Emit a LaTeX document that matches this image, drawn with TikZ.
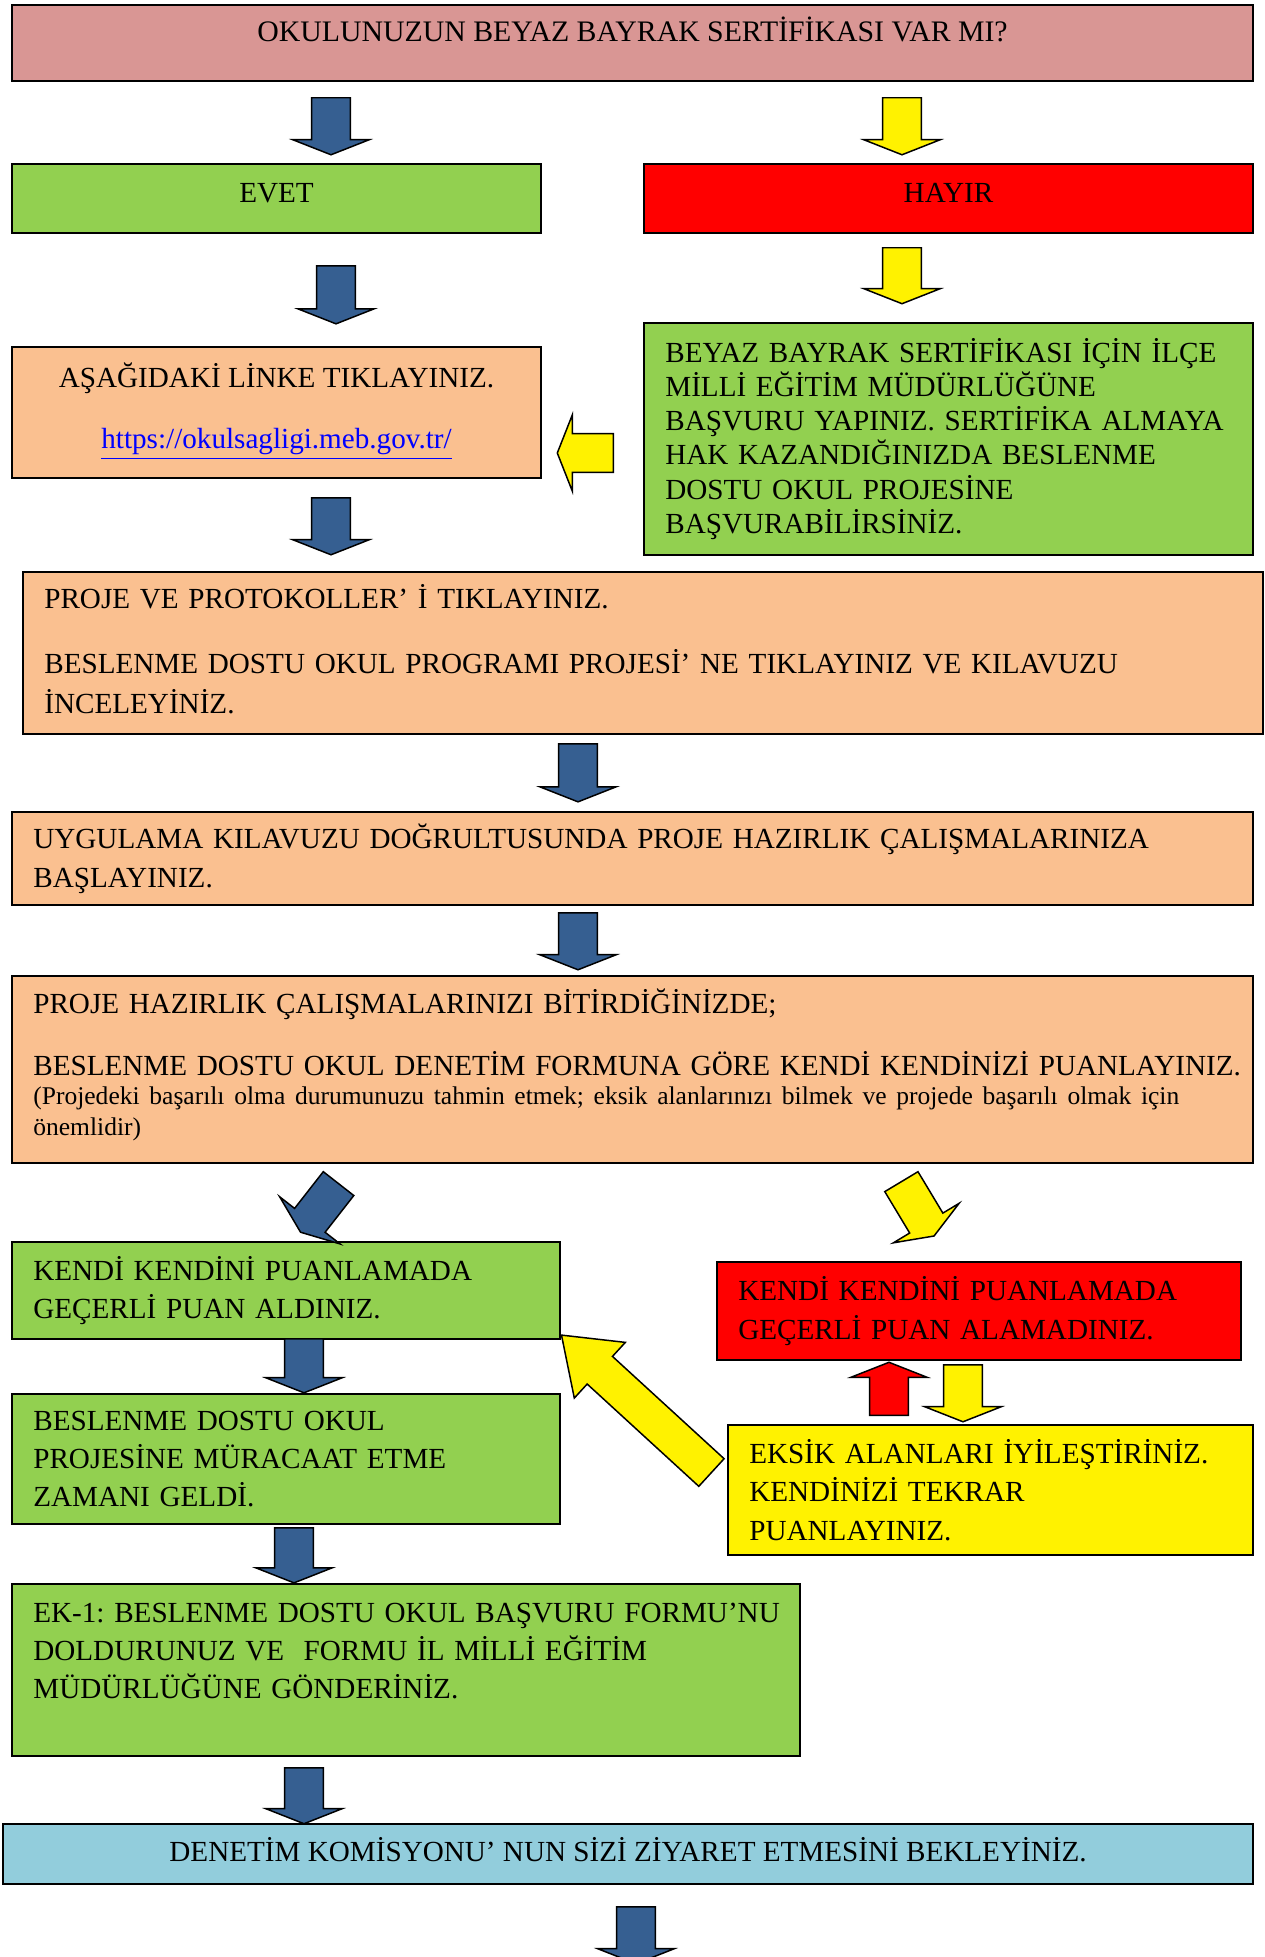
\documentclass[tikz,border=0pt]{standalone}
\usepackage{fontspec}
\setmainfont{Liberation Serif}
\usepackage{color}
\usetikzlibrary{shapes.arrows}
\definecolor{titlepink}{HTML}{D99694}
\definecolor{okgreen}{HTML}{92D050}
\definecolor{peach}{HTML}{FAC090}
\definecolor{lightblue}{HTML}{92CDDC}
\definecolor{arrblue}{HTML}{365F91}
\definecolor{linkblue}{HTML}{0000FF}
\frenchspacing

\begin{document}
\begin{tikzpicture}[x=0.47pt,y=-0.47pt]
			\tikzset{box/.style={draw=black, line width=1pt, rectangle, anchor=north west, inner sep=0pt, font=\fontsize{13.7}{18}\selectfont}}
			\tikzset{leftbox/.style={box, align=left}}
			\tikzset{arr/.style={single arrow, draw=black, line width=0.7pt, inner xsep=0pt, inner ysep=8.75pt, single arrow head extend=8.9pt, single arrow tip angle=137, minimum height=26.8pt, anchor=tail}}
			\tikzset{barrow/.style={arr, fill=arrblue}}
			\tikzset{yarrow/.style={arr, fill=yellow}}
			\tikzset{rarrow/.style={arr, fill=red}}
			\path[fill=white, use as bounding box] (0,0) rectangle (1265,1957);
			\clip (0,0) rectangle (1265,1957);
			\node[box, fill=titlepink, align=center, minimum width=583.3pt, minimum height=35.7pt, text depth=13pt, font=\fontsize{14}{18}\selectfont] (soru) at (11,4) {OKULUNUZUN BEYAZ BAYRAK SERTİFİKASI VAR MI?};
			\node[box, fill=okgreen, align=center, minimum width=248.6pt, minimum height=32.4pt, text depth=5.2pt] (evet) at (11,163) {EVET};
			\node[box, fill=red, align=center, minimum width=286.2pt, minimum height=32.4pt, text depth=5.2pt] (hayir) at (643,163) {HAYIR};
			\node[box, fill=peach, align=center, minimum width=248.6pt, minimum height=61.6pt, text depth=6.5pt] (link) at (11,346) {AŞAĞIDAKİ LİNKE TIKLAYINIZ.\\[11pt]\textcolor{linkblue}{\underline{https://okulsagligi.meb.gov.tr/}}};
			\node[leftbox, fill=okgreen, minimum width=286.2pt, minimum height=109pt, text width=266.2pt, font=\fontsize{13.7}{16}\selectfont] (ilce) at (643,322) {\mbox{BEYAZ BAYRAK SERTİFİKASI İÇİN İLÇE}\\MİLLİ EĞİTİM MÜDÜRLÜĞÜNE\\\mbox{BAŞVURU YAPINIZ. SERTİFİKA ALMAYA}\\HAK KAZANDIĞINIZDA BESLENME\\DOSTU OKUL PROJESİNE\\BAŞVURABİLİRSİNİZ.};
			\node[leftbox, fill=peach, minimum width=582.8pt, minimum height=76.1pt, text width=562.8pt, font=\fontsize{13.7}{18.8}\selectfont] (protokol) at (22,571) {PROJE VE PROTOKOLLER’ İ TIKLAYINIZ.\\[11.8pt]BESLENME DOSTU OKUL PROGRAMI PROJESİ’ NE TIKLAYINIZ VE KILAVUZU\\İNCELEYİNİZ.\\[-15.3pt]\mbox{}};
			\node[leftbox, fill=peach, minimum width=583.3pt, minimum height=43.7pt, text width=563.3pt, font=\fontsize{13.7}{18.3}\selectfont] (uygulama) at (11,811) {UYGULAMA KILAVUZU DOĞRULTUSUNDA PROJE HAZIRLIK ÇALIŞMALARINIZA\\BAŞLAYINIZ.};
			\node[leftbox, fill=peach, minimum width=583.3pt, minimum height=87.9pt, text width=563.3pt] (hazirlik) at (11,975) {PROJE HAZIRLIK ÇALIŞMALARINIZI BİTİRDİĞİNİZDE;\\[11pt]\mbox{BESLENME DOSTU OKUL DENETİM FORMUNA GÖRE KENDİ KENDİNİZİ PUANLAYINIZ.}\\[-0.9pt]{\fontsize{12}{14.6}\selectfont (Projedeki başarılı olma durumunuzu tahmin etmek; eksik alanlarınızı bilmek ve projede başarılı olmak için\\[-3.3pt]önemlidir)}\\[-11pt]\mbox{}};
			\node[leftbox, fill=okgreen, minimum width=257.6pt, minimum height=45.6pt, text width=237.6pt] (aldiniz) at (11,1241) {KENDİ KENDİNİ PUANLAMADA\\GEÇERLİ PUAN ALDINIZ.};
			\node[leftbox, fill=okgreen, minimum width=257.6pt, minimum height=61.1pt, text width=237.6pt] (muracaat) at (11,1393) {BESLENME DOSTU OKUL\\PROJESİNE MÜRACAAT ETME\\ZAMANI GELDİ.};
			\node[leftbox, fill=red, minimum width=246.3pt, minimum height=46.1pt, text width=226.3pt] (alamadiniz) at (716,1261) {KENDİ KENDİNİ PUANLAMADA\\GEÇERLİ PUAN ALAMADINIZ.};
			\node[leftbox, fill=yellow, minimum width=246.8pt, minimum height=61.1pt, text width=226.8pt] (eksik) at (727,1424) {\mbox{EKSİK ALANLARI İYİLEŞTİRİNİZ.}\\KENDİNİZİ TEKRAR\\PUANLAYINIZ.};
			\node[leftbox, fill=okgreen, minimum width=370.4pt, minimum height=80.8pt, text width=350.4pt] (basvuru) at (11,1583) {\mbox{EK-1: BESLENME DOSTU OKUL BAŞVURU FORMU’NU}\\DOLDURUNUZ VE\ \ FORMU İL MİLLİ EĞİTİM\\MÜDÜRLÜĞÜNE GÖNDERİNİZ.\\\mbox{}};
			\node[box, fill=lightblue, align=center, minimum width=587.5pt, minimum height=28.2pt, text depth=4.5pt] (denetim) at (2,1823) {DENETİM KOMİSYONU’ NUN SİZİ ZİYARET ETMESİNİ BEKLEYİNİZ.};
			\node[barrow, rotate=-90] (a1) at (331,97) {};
			\node[yarrow, rotate=-90] (b1) at (902,97) {};
			\node[barrow, rotate=-90, minimum height=27.3pt] (a2) at (336,265) {};
			\node[yarrow, rotate=-90, minimum height=26.3pt] (b2) at (902,247) {};
			\node[yarrow, rotate=180, minimum height=26.3pt] (b3) at (614,453) {};
			\node[barrow, rotate=-90] (a3) at (331,497) {};
			\node[barrow, rotate=-90, minimum height=27.3pt] (a4) at (578,743) {};
			\node[barrow, rotate=-90] (a5) at (578,912) {};
			\node[barrow, rotate=-128, minimum height=29pt] (a6) at (339,1183) {};
			\node[yarrow, rotate=-59, minimum height=29.8pt] (b4) at (901,1181) {};
			\node[barrow, rotate=-90, minimum height=25.4pt] (a7) at (304,1338) {};
			\node[rarrow, rotate=90, minimum height=24.9pt] (c1) at (889,1416) {};
			\node[yarrow, rotate=-90] (b5) at (963,1364) {};
			\node[yarrow, rotate=137.5, minimum height=95.6pt, inner ysep=8.45pt, single arrow head extend=8.95pt, single arrow tip angle=72] (b6) at (712,1473) {};
			\node[barrow, rotate=-90, minimum height=25.9pt] (a8) at (294,1527) {};
			\node[barrow, rotate=-90, minimum height=26.3pt] (a9) at (304,1767) {};
			\node[barrow, rotate=-90] (a10) at (636,1906) {};
\end{tikzpicture}
\end{document}
